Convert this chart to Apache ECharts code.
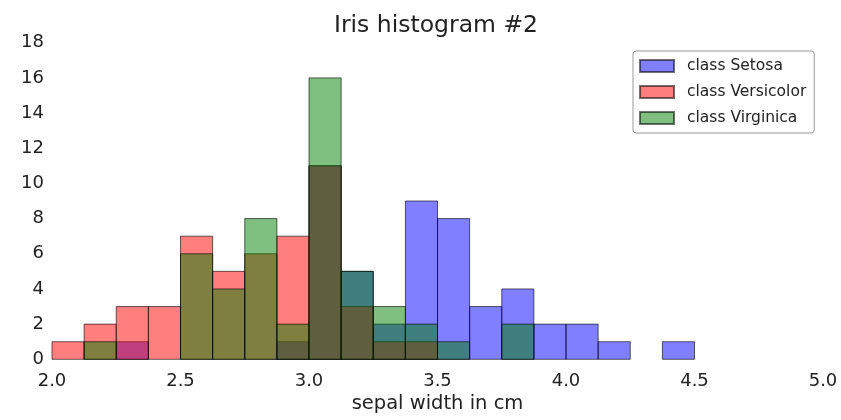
<!DOCTYPE html>
<html lang="en">
<head>
  <meta charset="UTF-8">
  <title>Iris histogram #2</title>
  <style>
    body { margin: 0; background: #fff; }
    #main { width: 841px; height: 420px; }
  </style>
</head>
<body>
<div id="main"></div>
<script src="https://cdn.jsdelivr.net/npm/echarts@6/dist/echarts.min.js"></script>
<script>
  // bin edges (20 bins, width 0.125)
  let binEdges = [2.0, 2.125, 2.25, 2.375, 2.5, 2.625, 2.75, 2.875, 3.0, 3.125, 3.25,
    3.375, 3.5, 3.625, 3.75, 3.875, 4.0, 4.125, 4.25, 4.375, 4.5];
  // counts per bin
  let setosa = [0, 0, 1, 0, 0, 0, 0, 1, 11, 5, 2, 9, 8, 3, 4, 2, 2, 1, 0, 1];
  let versicolor = [1, 2, 3, 3, 7, 5, 6, 7, 11, 3, 1, 1, 0, 0, 0, 0, 0, 0, 0, 0];
  let virginica = [0, 1, 0, 0, 6, 4, 8, 2, 16, 5, 3, 2, 1, 0, 2, 0, 0, 0, 0, 0];
  let xTicks = [2.0, 2.5, 3.0, 3.5, 4.0, 4.5, 5.0];
  let yTicks = [0, 2, 4, 6, 8, 10, 12, 14, 16, 18];

  let font = 'DejaVu Sans';

  // [binStart, binEnd, count]
  function toBins(counts) {
    let res = [];
    counts.forEach(function (c, i) {
      if (c > 0) res.push([binEdges[i], binEdges[i + 1], c]);
    });
    return res;
  }

  function histSeries(name, counts, fill) {
    return {
      name: name,
      type: 'custom',
      itemStyle: { color: fill, borderColor: 'rgba(0,0,0,0.55)', borderWidth: 1 },
      encode: { x: [0, 1], y: 2 },
      renderItem: function (params, api) {
        let p0 = api.coord([api.value(0), 0]);
        let p1 = api.coord([api.value(1), api.value(2)]);
        return {
          type: 'rect',
          shape: { x: p0[0], y: p1[1], width: p1[0] - p0[0], height: p0[1] - p1[1] },
          style: { fill: fill, stroke: 'rgba(0,0,0,0.6)', lineWidth: 1 }
        };
      },
      data: toBins(counts)
    };
  }

  let chart = echarts.init(document.getElementById('main'));
  let option = {
    backgroundColor: '#fff',
    animation: false,
    textStyle: { fontFamily: font },
    title: {
      text: 'Iris histogram #2',
      left: 329,
      top: 9,
      textStyle: { fontFamily: font, fontSize: 23.5, fontWeight: 'normal', color: '#222' }
    },
    legend: {
      orient: 'vertical',
      left: 633,
      top: 51,
      padding: [6, 8, 6, 6],
      itemWidth: 34,
      itemHeight: 12,
      itemGap: 8,
      icon: 'rect',
      borderColor: '#999',
      borderWidth: 1,
      borderRadius: 3,
      backgroundColor: '#fff',
      textStyle: { fontFamily: font, fontSize: 15.5, color: '#222', lineHeight: 18, padding: [0, 0, 0, 8] },
      data: ['class Setosa', 'class Versicolor', 'class Virginica']
    },
    grid: { left: 52, right: 18, top: 42.7, bottom: 60.7, outerBoundsMode: 'none' },
    xAxis: {
      type: 'value',
      min: xTicks[0],
      max: xTicks[xTicks.length - 1],
      interval: 0.5,
      name: 'sepal width in cm',
      nameLocation: 'middle',
      nameGap: 35,
      nameMoveOverlap: false,
      nameTextStyle: { fontFamily: font, fontSize: 19.5, color: '#222' },
      axisLine: { show: false },
      axisTick: { show: false },
      splitLine: { show: false },
      axisLabel: {
        fontFamily: font, fontSize: 18, color: '#222', margin: 13,
        formatter: function (v) { return v.toFixed(1); }
      }
    },
    yAxis: {
      type: 'value',
      min: yTicks[0],
      max: yTicks[yTicks.length - 1],
      interval: 2,
      axisLine: { show: false },
      axisTick: { show: false },
      splitLine: { show: false },
      axisLabel: { fontFamily: font, fontSize: 18, color: '#222', margin: 8 }
    },
    series: [
      histSeries('class Setosa', setosa, 'rgba(0,0,255,0.5)'),
      histSeries('class Versicolor', versicolor, 'rgba(255,0,0,0.5)'),
      histSeries('class Virginica', virginica, 'rgba(0,128,0,0.5)')
    ]
  };
  chart.setOption(option);
</script>
</body>
</html>
